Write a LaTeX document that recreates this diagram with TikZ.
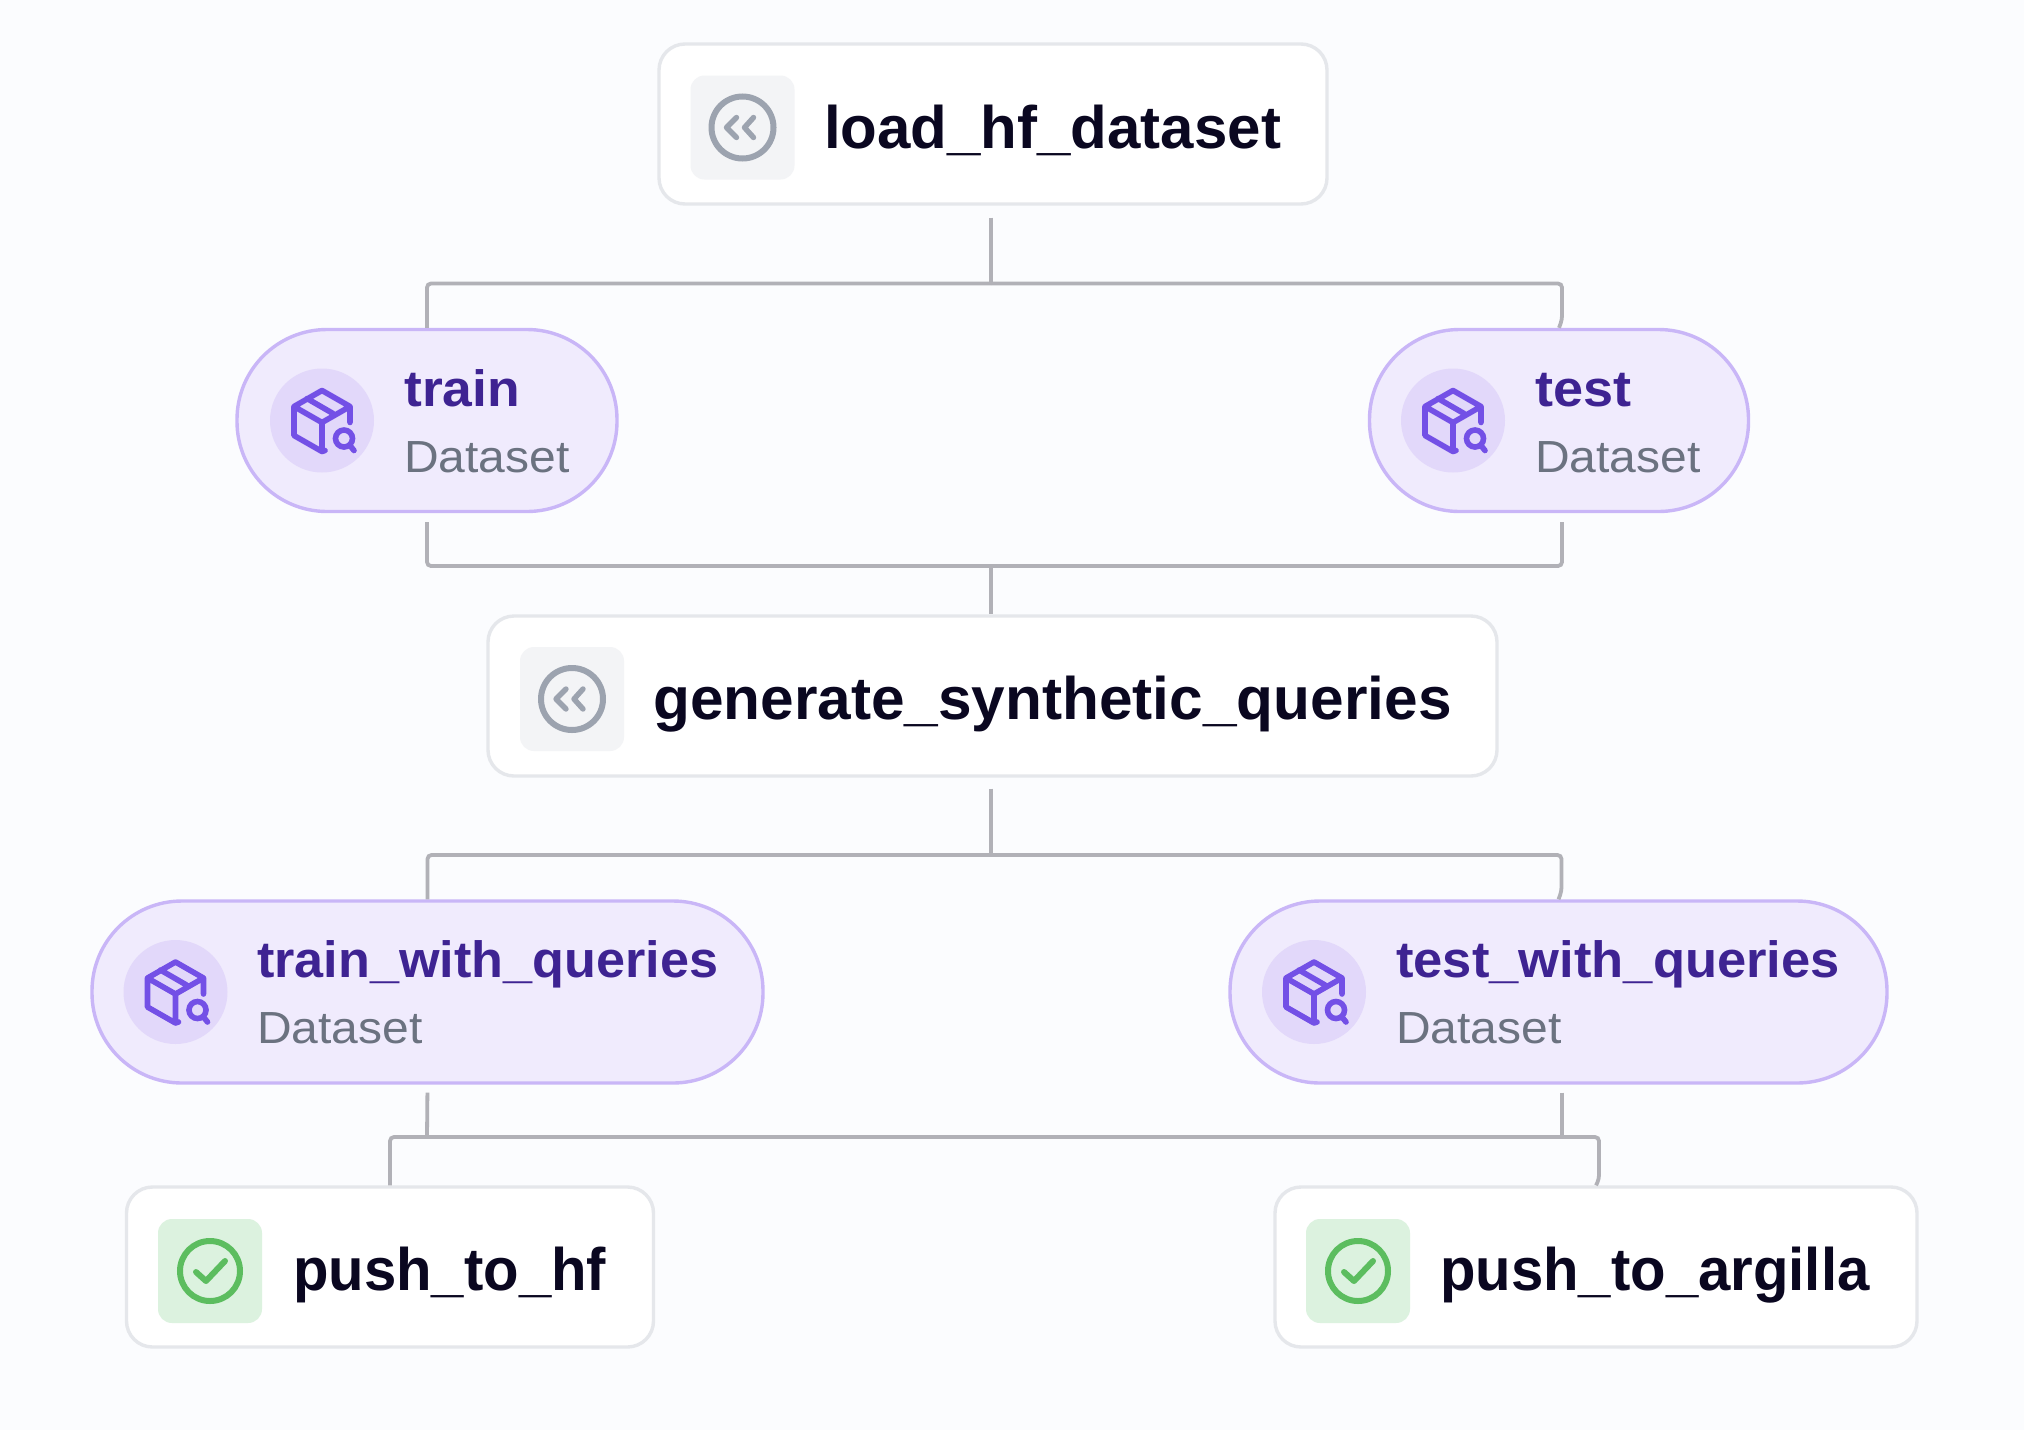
\documentclass[tikz,border=0pt]{standalone}
\usepackage{fontspec}
\usepackage{graphicx}
\setmainfont{Liberation Sans}
\usetikzlibrary{calc}
\definecolor{pagebg}{HTML}{FBFCFE}
\definecolor{stepline}{HTML}{E5E7EB}
\definecolor{stepicon}{HTML}{F3F4F6}
\definecolor{stepgray}{HTML}{9CA3AF}
\definecolor{steptext}{HTML}{0A0720}
\definecolor{datafill}{HTML}{F0EBFD}
\definecolor{dataline}{HTML}{C9B6F7}
\definecolor{datacirc}{HTML}{E2D8FA}
\definecolor{dataicon}{HTML}{7350E6}
\definecolor{datatext}{HTML}{3E2392}
\definecolor{datasub}{HTML}{6B7280}
\definecolor{donefill}{HTML}{DCF2DF}
\definecolor{donegreen}{HTML}{5CBD5F}
\definecolor{wire}{HTML}{B1B1B7}
\tikzset{
  stepbox/.style={draw=stepline, line width=3.4pt, fill=white, rounded corners=26pt, inner sep=0pt, minimum height=160pt},
  databox/.style={draw=dataline, line width=3.4pt, fill=datafill, rounded corners=90pt, inner sep=0pt, minimum height=182pt},
  iconbox/.style={rounded corners=14pt, inner sep=0pt, minimum size=104pt},
  packcirc/.style={circle, fill=datacirc, inner sep=0pt, minimum size=104pt},
  conn/.style={draw=wire, line width=3.8pt, rounded corners=4pt},
  steplabel/.style={anchor=base west, inner sep=0pt, text=steptext, font=\fontsize{60}{60}\selectfont\bfseries},
  datalabel/.style={anchor=base west, inner sep=0pt, text=datatext, font=\fontsize{51}{51}\selectfont\bfseries},
  sublabel/.style={anchor=base west, inner sep=0pt, text=datasub, font=\fontsize{45}{45}\selectfont},
}
% text widths of the reference font
\newcommand{\narrowed}[1]{\scalebox{0.968}[1]{#1}}
\newcommand{\widened}[1]{\scalebox{1.03}[1]{#1}}
\newcommand{\subname}{\scalebox{1.067}[1]{Dataset}}
% icon of a step that loads or runs, #1 = icon box
\newcommand{\backicon}[1]{
  \draw[stepgray, line width=6pt] (#1) circle (31pt);
  \draw[stepgray, line width=5.4pt, line cap=round, line join=round]
    ($(#1)+(-6,-10)$) -- ($(#1)+(-16,0)$) -- ($(#1)+(-6,10)$)
    ($(#1)+(11,-10)$) -- ($(#1)+(2,0)$) -- ($(#1)+(11,10)$);
}
% icon of a step that ends the pipeline
\newcommand{\doneicon}[1]{
  \draw[donegreen, line width=6pt] (#1) circle (30pt);
  \draw[donegreen, line width=6pt, line cap=round, line join=round]
    ($(#1)+(-14,1)$) -- ($(#1)+(-4,10)$) -- ($(#1)+(15,-10)$);
}
% dataset box with a small lens
\newcommand{\packicon}[1]{
  \draw[dataicon, line width=5.6pt, line cap=round, line join=round]
    ($(#1)+(0,-30)$) -- ($(#1)+(28,-14)$) -- ($(#1)+(28,2)$)
    ($(#1)+(0,-30)$) -- ($(#1)+(-28,-14)$) -- ($(#1)+(-28,15)$) -- ($(#1)+(0,31)$) -- ($(#1)+(3,30)$)
    ($(#1)+(-28,-14)$) -- ($(#1)+(0,2)$) -- ($(#1)+(28,-14)$)
    ($(#1)+(0,2)$) -- ($(#1)+(0,31)$)
    ($(#1)+(-15,-22)$) -- ($(#1)+(11,-7)$);
  \draw[dataicon, line width=5.6pt] ($(#1)+(22,18)$) circle (8.5pt);
  \draw[dataicon, line width=5.6pt, line cap=round] ($(#1)+(28,25)$) -- ($(#1)+(32,30)$);
}

\begin{document}
\begin{tikzpicture}[x=1pt,y=-1pt]
  \useasboundingbox[fill=pagebg] (0,0) rectangle (2024,1430);

  % Define nodes
  \node[stepbox, minimum width=668pt] (load) at (993,124) {};
  \node[databox, minimum width=380pt] (train) at (427,420.5) {};
  \node[databox, minimum width=379pt] (test) at (1559,420.5) {};
  \node[stepbox, minimum width=1009pt] (generate) at (992.5,696) {};
  \node[databox, minimum width=671pt] (trainq) at (427.5,992) {};
  \node[databox, minimum width=657pt] (testq) at (1558.5,992) {};
  \node[stepbox, minimum width=527pt] (hf) at (390,1267) {};
  \node[stepbox, minimum width=642pt] (argilla) at (1596,1267) {};

  % Icon backgrounds
  \node[iconbox, fill=stepicon] (loadicon) at (742.5,127.5) {};
  \node[iconbox, fill=stepicon] (generateicon) at (572,699) {};
  \node[iconbox, fill=donefill] (hficon) at (210,1271) {};
  \node[iconbox, fill=donefill] (argillaicon) at (1358,1271) {};
  \node[packcirc] (trainicon) at (322,420.5) {};
  \node[packcirc] (testicon) at (1453,420.5) {};
  \node[packcirc] (trainqicon) at (175.5,992) {};
  \node[packcirc] (testqicon) at (1314,992) {};

  % Icons
  \backicon{loadicon}
  \backicon{generateicon}
  \doneicon{hficon}
  \doneicon{argillaicon}
  \packicon{trainicon}
  \packicon{testicon}
  \packicon{trainqicon}
  \packicon{testqicon}

  % Labels
  \node[steplabel] (loadtxt) at (824,148) {load\_hf\_dataset};
  \node[steplabel] (generatetxt) at (653,719) {\scalebox{1.006}[1]{generate\_synthetic\_queries}};
  \node[steplabel] (hftxt) at (293,1290) {\narrowed{push\_to\_hf}};
  \node[steplabel] (argillatxt) at (1440,1290) {\narrowed{push\_to\_argilla}};
  \node[datalabel] (traintxt) at (404,406) {\scalebox{1.048}[1]{train}};
  \node[sublabel] (trainsub) at (404,472) {\subname};
  \node[datalabel] (testtxt) at (1535,406) {\scalebox{1.06}[1]{test}};
  \node[sublabel] (testsub) at (1535,472) {\subname};
  \node[datalabel] (trainqtxt) at (257,977) {\scalebox{1.023}[1]{train\_with\_queries}};
  \node[sublabel] (trainqsub) at (257,1043) {\subname};
  \node[datalabel] (testqtxt) at (1396,977) {\widened{test\_with\_queries}};
  \node[sublabel] (testqsub) at (1396,1043) {\subname};

  % Junctions
  \coordinate (busa) at (991,283.5);
  \coordinate (busb) at (991,566);
  \coordinate (busc) at (991,855);
  \coordinate (busd) at (427,1137);

  % Draw connectors
  \draw[conn, shorten <=12pt] (busa |- load.south) -- (busa);
  \draw[conn] (busa) -| (train.north);
  \draw[conn] (busa) -| ([xshift=3pt,yshift=8pt]test.north) -- (test.north);
  \draw[conn, shorten <=9pt] (train.south) |- (busb);
  \draw[conn, shorten <=9pt] ([xshift=3pt]test.south) |- (busb);
  \draw[conn] (busb) -- (busb |- generate.north);
  \draw[conn, shorten <=11pt] (busc |- generate.south) -- (busc);
  \draw[conn] (busc) -| (trainq.north);
  \draw[conn] (busc) -| ([xshift=3pt,yshift=8pt]testq.north) -- (testq.north);
  \draw[conn, shorten <=8pt] (trainq.south) -- (busd);
  \draw[conn] (busd) -| (hf.north);
  \draw[conn] (busd) -| ([xshift=3pt,yshift=6pt]argilla.north) -- (argilla.north);
  \draw[conn, shorten <=8pt] ([xshift=3.5pt]testq.south) -- ([xshift=3.5pt]testq.south |- busd);
\end{tikzpicture}
\end{document}
